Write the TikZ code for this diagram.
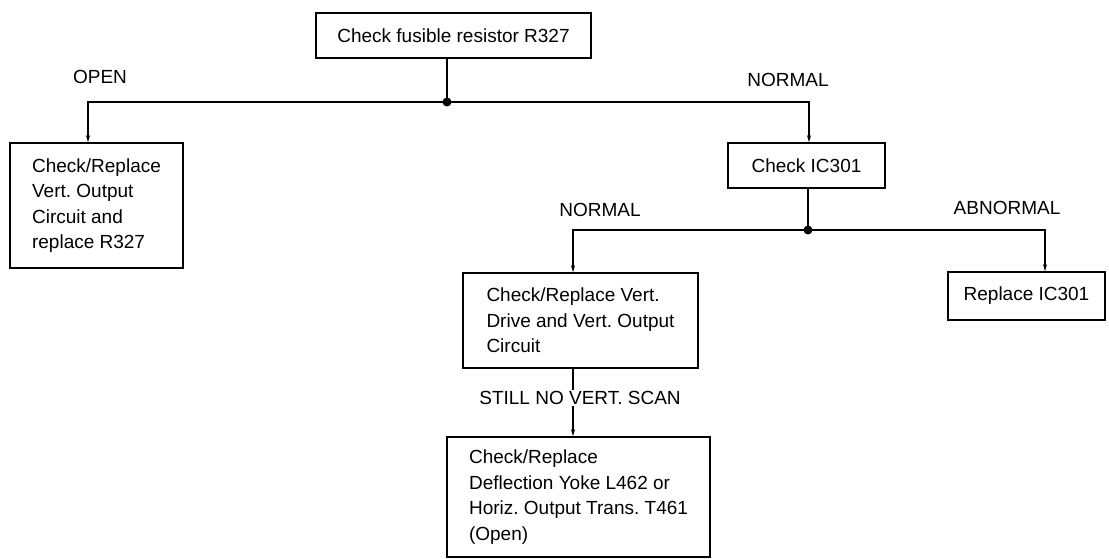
\documentclass[tikz,border=0pt]{standalone}
\usepackage{fontspec}
\setmainfont{Liberation Sans}
\usepackage{tikz}
\usetikzlibrary{arrows.meta,positioning}
\frenchspacing
\tikzset{
  stepbox/.style={draw,line width=1.6pt,rectangle,inner sep=0pt},
  textbox/.style={stepbox,align=left},
  branch/.style={line width=1.1pt},
  flow/.style={branch,-{Stealth[length=7pt,width=4pt]}},
  tag/.style={inner sep=1pt},
  junction/.style={circle,fill=black,inner sep=0pt,minimum size=9pt}
}
\begin{document}
\begin{tikzpicture}[x=1pt,y=-1pt,font=\fontsize{19}{25.5}\selectfont]
  \useasboundingbox (0,0) rectangle (1109,559);
  % boxes
  \node[stepbox,minimum width=275pt,minimum height=45pt] (fuse) at (453.5,35.5) {Check fusible resistor R327};
  \node[textbox,minimum width=173pt,minimum height=125pt] (openbox) at (96.5,205.5) {Check/Replace\\Vert. Output\\Circuit and\\replace R327};
  \node[stepbox,minimum width=157pt,minimum height=45pt] (ic) at (806.5,165.5) {Check IC301};
  \node[stepbox,minimum width=157pt,minimum height=48pt] (repl) at (1026.5,296) {Replace IC301};
  \node[textbox,minimum width=235pt,minimum height=95pt] (drive) at (580.5,320.5) {Check/Replace Vert.\\Drive and Vert. Output\\Circuit};
  \node[textbox,minimum width=263pt,minimum height=120pt] (yoke) at (578.5,497) {Check/Replace\\Deflection Yoke L462 or\\Horiz. Output Trans. T461\\(Open)};
  % junctions
  \coordinate (j1) at (447,102);
  \coordinate (j2) at (808,230);
  \draw[branch] (fuse.south -| j1) -- (j1);
  \draw[flow] (j1) -| ([xshift=-8.5pt]openbox.north);
  \draw[flow] (j1) -| ([xshift=2.5pt]ic.north);
  \draw[branch] (ic.south -| j2) -- (j2);
  \draw[flow] (j2) -| ([xshift=-7.5pt]drive.north);
  \draw[flow] (j2) -| ([xshift=18.5pt]repl.north);
  \draw[flow] ([xshift=-7.5pt]drive.south) -- ([xshift=-5.5pt]yoke.north);
  \node[junction] at (j1) {};
  \node[junction] at (j2) {};
  % labels
  \node[tag] (lopen) at (100,77) {OPEN};
  \node[tag] (lnorm) at (788,80) {NORMAL};
  \node[tag] (lnorm2) at (600,210) {NORMAL};
  \node[tag] (labn) at (1007,208) {ABNORMAL};
  \node[tag,fill=white] (lscan) at (580,398) {STILL NO VERT. SCAN};
\end{tikzpicture}
\end{document}
